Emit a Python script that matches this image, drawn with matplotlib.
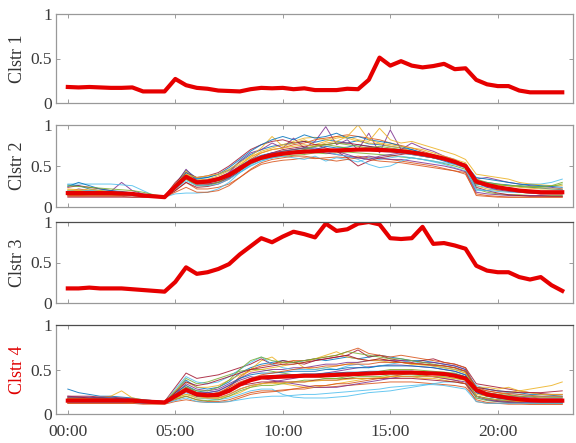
import numpy as np
import matplotlib.pyplot as plt

plt.rcParams['font.family'] = ['Liberation Serif', 'DejaVu Serif']

# half-hourly sample times in hours (00:00 ... 23:00)
hours = np.arange(0, 23.01, 0.5)

# cluster centroids (red curves)
clstr1_mean = [0.18, 0.175, 0.18, 0.175, 0.17, 0.17, 0.175, 0.13, 0.13, 0.13,
               0.27, 0.2, 0.17, 0.16, 0.14, 0.135, 0.13, 0.155, 0.17, 0.165,
               0.17, 0.155, 0.165, 0.145, 0.145, 0.145, 0.16, 0.155, 0.26, 0.51,
               0.42, 0.47, 0.42, 0.40, 0.415, 0.44, 0.38, 0.39, 0.26, 0.21,
               0.19, 0.19, 0.14, 0.12, 0.12, 0.12, 0.12]

clstr2_mean = [0.17, 0.17, 0.17, 0.17, 0.17, 0.165, 0.16, 0.14, 0.13, 0.12,
               0.25, 0.37, 0.30, 0.31, 0.34, 0.39, 0.47, 0.55, 0.60, 0.63,
               0.65, 0.665, 0.675, 0.68, 0.69, 0.69, 0.695, 0.70, 0.70, 0.695,
               0.69, 0.68, 0.665, 0.645, 0.62, 0.59, 0.55, 0.50, 0.31, 0.27,
               0.24, 0.22, 0.20, 0.19, 0.18, 0.18, 0.18]

clstr3_mean = [0.18, 0.18, 0.19, 0.18, 0.18, 0.18, 0.17, 0.16, 0.15, 0.14,
               0.26, 0.44, 0.36, 0.38, 0.42, 0.48, 0.60, 0.70, 0.80, 0.75,
               0.82, 0.88, 0.85, 0.81, 0.98, 0.89, 0.91, 0.98, 1.0, 0.97,
               0.80, 0.79, 0.80, 0.94, 0.73, 0.74, 0.71, 0.67, 0.46, 0.40,
               0.38, 0.38, 0.32, 0.29, 0.32, 0.22, 0.15]

clstr4_mean = [0.15, 0.15, 0.15, 0.15, 0.15, 0.15, 0.15, 0.14, 0.135, 0.13,
               0.20, 0.27, 0.22, 0.21, 0.215, 0.26, 0.33, 0.38, 0.41, 0.415,
               0.42, 0.425, 0.43, 0.43, 0.435, 0.44, 0.445, 0.45, 0.455, 0.46,
               0.465, 0.465, 0.465, 0.46, 0.455, 0.45, 0.43, 0.40, 0.27, 0.22,
               0.20, 0.18, 0.165, 0.155, 0.15, 0.15, 0.15]

# individual member profiles of cluster 2
clstr2_members = [
    [0.27, 0.26, 0.22, 0.2, 0.18, 0.17, 0.16, 0.15, 0.14, 0.13, 0.28, 0.45, 0.35, 0.36, 0.4, 0.45, 0.55, 0.64,
     0.7, 0.74, 0.76, 0.78, 0.8, 0.79, 0.82, 0.8, 0.78, 0.81, 0.77, 0.76, 0.74, 0.72, 0.7, 0.66, 0.63, 0.6, 0.56, 0.52,
     0.32, 0.3, 0.28, 0.27, 0.25, 0.24, 0.23, 0.22, 0.21],
    [0.13, 0.13, 0.13, 0.13, 0.13, 0.13, 0.12, 0.12, 0.12, 0.12, 0.2, 0.3, 0.22, 0.22, 0.24, 0.28, 0.36, 0.45,
     0.52, 0.55, 0.57, 0.58, 0.6, 0.59, 0.6, 0.61, 0.6, 0.62, 0.6, 0.59, 0.58, 0.56, 0.54, 0.52, 0.5, 0.47, 0.44, 0.4,
     0.16, 0.14, 0.13, 0.12, 0.12, 0.12, 0.12, 0.12, 0.12],
    [0.2, 0.2, 0.19, 0.19, 0.18, 0.18, 0.17, 0.15, 0.14, 0.13, 0.26, 0.4, 0.33, 0.34, 0.38, 0.44, 0.52, 0.6,
     0.68, 0.72, 0.76, 0.8, 0.84, 0.85, 0.82, 0.86, 0.84, 0.8, 0.78, 0.77, 0.74, 0.72, 0.68, 0.64, 0.6, 0.57, 0.54, 0.49,
     0.26, 0.22, 0.2, 0.19, 0.18, 0.17, 0.17, 0.16, 0.16],
    [0.18, 0.22, 0.2, 0.18, 0.19, 0.3, 0.2, 0.16, 0.14, 0.13, 0.27, 0.46, 0.32, 0.3, 0.34, 0.42, 0.56, 0.66,
     0.7, 0.78, 0.72, 0.84, 0.72, 0.8, 0.98, 0.76, 0.82, 0.7, 0.9, 0.66, 0.94, 0.7, 0.78, 0.72, 0.68, 0.62, 0.58, 0.5,
     0.34, 0.36, 0.33, 0.3, 0.28, 0.26, 0.25, 0.24, 0.22],
    [0.15, 0.15, 0.15, 0.15, 0.15, 0.14, 0.14, 0.13, 0.13, 0.12, 0.22, 0.34, 0.28, 0.28, 0.3, 0.35, 0.44, 0.52,
     0.58, 0.6, 0.62, 0.63, 0.64, 0.66, 0.65, 0.66, 0.67, 0.66, 0.65, 0.64, 0.63, 0.61, 0.6, 0.58, 0.56, 0.53, 0.5, 0.46,
     0.22, 0.18, 0.16, 0.15, 0.15, 0.14, 0.14, 0.14, 0.14],
    [0.28, 0.28, 0.28, 0.28, 0.28, 0.27, 0.26, 0.2, 0.14, 0.12, 0.16, 0.17, 0.17, 0.18, 0.22, 0.3, 0.42, 0.5,
     0.56, 0.6, 0.62, 0.6, 0.58, 0.62, 0.56, 0.6, 0.58, 0.55, 0.6, 0.58, 0.6, 0.62, 0.6, 0.58, 0.55, 0.52, 0.48, 0.44,
     0.2, 0.2, 0.22, 0.24, 0.26, 0.28, 0.28, 0.3, 0.34],
    [0.24, 0.26, 0.24, 0.22, 0.2, 0.18, 0.16, 0.15, 0.14, 0.13, 0.3, 0.42, 0.36, 0.38, 0.42, 0.5, 0.6, 0.7,
     0.76, 0.8, 0.82, 0.78, 0.8, 0.76, 0.72, 0.68, 0.6, 0.5, 0.56, 0.6, 0.62, 0.64, 0.66, 0.62, 0.6, 0.58, 0.54, 0.5,
     0.3, 0.26, 0.24, 0.22, 0.2, 0.19, 0.18, 0.18, 0.17],
    [0.19, 0.19, 0.18, 0.18, 0.18, 0.17, 0.16, 0.14, 0.13, 0.12, 0.24, 0.38, 0.3, 0.31, 0.33, 0.4, 0.5, 0.58,
     0.63, 0.66, 0.68, 0.7, 0.72, 0.7, 0.74, 0.72, 0.73, 0.76, 0.74, 0.72, 0.7, 0.68, 0.66, 0.63, 0.6, 0.56, 0.52, 0.48,
     0.28, 0.26, 0.24, 0.22, 0.2, 0.2, 0.19, 0.19, 0.19],
    [0.14, 0.14, 0.14, 0.14, 0.14, 0.14, 0.14, 0.13, 0.12, 0.12, 0.22, 0.35, 0.26, 0.27, 0.3, 0.36, 0.46, 0.58,
     0.66, 0.7, 0.72, 0.76, 0.78, 0.82, 0.84, 0.86, 0.88, 0.86, 0.84, 0.82, 0.78, 0.75, 0.72, 0.68, 0.64, 0.6, 0.56, 0.52,
     0.3, 0.26, 0.23, 0.2, 0.18, 0.17, 0.16, 0.16, 0.16],
    [0.22, 0.21, 0.2, 0.2, 0.19, 0.18, 0.16, 0.15, 0.13, 0.12, 0.25, 0.44, 0.3, 0.3, 0.32, 0.4, 0.5, 0.62,
     0.72, 0.86, 0.74, 0.78, 0.82, 0.76, 0.8, 0.84, 0.86, 0.82, 0.8, 0.96, 0.82, 0.78, 0.8, 0.76, 0.72, 0.68, 0.64, 0.58,
     0.4, 0.38, 0.36, 0.34, 0.3, 0.28, 0.27, 0.26, 0.26],
    [0.18, 0.17, 0.17, 0.16, 0.16, 0.16, 0.15, 0.14, 0.13, 0.12, 0.24, 0.36, 0.32, 0.33, 0.36, 0.42, 0.5, 0.56,
     0.6, 0.62, 0.64, 0.66, 0.66, 0.68, 0.66, 0.64, 0.62, 0.6, 0.62, 0.6, 0.58, 0.58, 0.56, 0.54, 0.52, 0.5, 0.47, 0.43,
     0.18, 0.16, 0.15, 0.14, 0.14, 0.14, 0.14, 0.13, 0.13],
    [0.16, 0.16, 0.16, 0.17, 0.17, 0.16, 0.15, 0.14, 0.13, 0.12, 0.24, 0.37, 0.3, 0.32, 0.34, 0.4, 0.48, 0.56,
     0.62, 0.65, 0.68, 0.7, 0.72, 0.74, 0.76, 0.74, 0.72, 0.7, 0.72, 0.7, 0.68, 0.66, 0.64, 0.62, 0.6, 0.58, 0.55, 0.5,
     0.34, 0.3, 0.28, 0.26, 0.25, 0.24, 0.24, 0.25, 0.28],
    [0.2, 0.2, 0.2, 0.2, 0.19, 0.18, 0.16, 0.14, 0.13, 0.12, 0.26, 0.38, 0.3, 0.3, 0.32, 0.36, 0.42, 0.5,
     0.56, 0.6, 0.64, 0.68, 0.7, 0.72, 0.68, 0.64, 0.62, 0.58, 0.52, 0.48, 0.5, 0.56, 0.6, 0.58, 0.56, 0.54, 0.52, 0.48,
     0.26, 0.24, 0.22, 0.2, 0.19, 0.18, 0.18, 0.17, 0.17],
    [0.12, 0.12, 0.12, 0.12, 0.12, 0.12, 0.12, 0.12, 0.12, 0.11, 0.2, 0.3, 0.24, 0.25, 0.28, 0.34, 0.44, 0.54,
     0.62, 0.66, 0.7, 0.72, 0.74, 0.76, 0.76, 0.78, 0.78, 0.76, 0.74, 0.72, 0.7, 0.68, 0.66, 0.64, 0.62, 0.58, 0.55, 0.5,
     0.24, 0.2, 0.17, 0.15, 0.14, 0.13, 0.13, 0.13, 0.13],
    [0.25, 0.3, 0.26, 0.22, 0.2, 0.19, 0.17, 0.15, 0.13, 0.12, 0.26, 0.42, 0.34, 0.36, 0.4, 0.48, 0.58, 0.68,
     0.76, 0.82, 0.86, 0.82, 0.88, 0.84, 0.86, 0.9, 0.84, 0.86, 0.82, 0.8, 0.78, 0.74, 0.7, 0.66, 0.62, 0.58, 0.55, 0.52,
     0.36, 0.34, 0.32, 0.3, 0.28, 0.27, 0.26, 0.25, 0.24],
    [0.14, 0.14, 0.15, 0.15, 0.15, 0.15, 0.14, 0.13, 0.12, 0.12, 0.18, 0.24, 0.18, 0.18, 0.2, 0.26, 0.36, 0.46,
     0.54, 0.58, 0.6, 0.62, 0.62, 0.6, 0.58, 0.56, 0.58, 0.6, 0.58, 0.56, 0.55, 0.54, 0.52, 0.5, 0.48, 0.46, 0.44, 0.42,
     0.14, 0.13, 0.12, 0.12, 0.12, 0.12, 0.12, 0.12, 0.12],
    [0.21, 0.2, 0.22, 0.2, 0.18, 0.17, 0.16, 0.14, 0.13, 0.12, 0.28, 0.4, 0.36, 0.38, 0.4, 0.46, 0.54, 0.62,
     0.66, 0.7, 0.72, 0.74, 0.76, 0.74, 0.78, 0.8, 0.86, 1.0, 0.82, 0.78, 0.76, 0.74, 0.72, 0.7, 0.66, 0.62, 0.58, 0.54,
     0.3, 0.28, 0.27, 0.26, 0.24, 0.23, 0.22, 0.22, 0.22],
    [0.17, 0.17, 0.17, 0.17, 0.17, 0.16, 0.15, 0.14, 0.13, 0.12, 0.24, 0.36, 0.28, 0.28, 0.3, 0.36, 0.46, 0.56,
     0.62, 0.66, 0.68, 0.7, 0.72, 0.72, 0.7, 0.68, 0.64, 0.6, 0.58, 0.62, 0.64, 0.66, 0.64, 0.62, 0.6, 0.57, 0.54, 0.5,
     0.3, 0.24, 0.21, 0.19, 0.18, 0.17, 0.16, 0.16, 0.16],
    [0.26, 0.25, 0.24, 0.23, 0.22, 0.21, 0.2, 0.18, 0.15, 0.13, 0.24, 0.34, 0.26, 0.26, 0.3, 0.38, 0.48, 0.56,
     0.6, 0.64, 0.66, 0.68, 0.7, 0.74, 0.76, 0.78, 0.76, 0.74, 0.72, 0.74, 0.72, 0.7, 0.68, 0.66, 0.62, 0.58, 0.54, 0.5,
     0.28, 0.28, 0.27, 0.26, 0.26, 0.25, 0.25, 0.26, 0.3],
    [0.15, 0.16, 0.16, 0.16, 0.16, 0.15, 0.14, 0.13, 0.12, 0.12, 0.22, 0.32, 0.26, 0.26, 0.28, 0.34, 0.42, 0.52,
     0.58, 0.6, 0.64, 0.66, 0.66, 0.68, 0.68, 0.7, 0.7, 0.7, 0.69, 0.68, 0.67, 0.66, 0.64, 0.62, 0.6, 0.57, 0.53, 0.48,
     0.22, 0.2, 0.19, 0.18, 0.18, 0.18, 0.17, 0.17, 0.17],
]

# individual member profiles of cluster 4
clstr4_members = [
    [0.28, 0.24, 0.22, 0.2, 0.2, 0.19, 0.18, 0.16, 0.15, 0.14, 0.25, 0.38, 0.3, 0.28, 0.3, 0.36, 0.46, 0.52,
     0.56, 0.58, 0.6, 0.58, 0.6, 0.62, 0.6, 0.62, 0.64, 0.62, 0.64, 0.66, 0.64, 0.62, 0.6, 0.6, 0.58, 0.56, 0.54, 0.5,
     0.3, 0.28, 0.26, 0.25, 0.24, 0.22, 0.22, 0.21, 0.2],
    [0.12, 0.12, 0.12, 0.12, 0.12, 0.12, 0.12, 0.12, 0.12, 0.12, 0.16, 0.2, 0.16, 0.14, 0.14, 0.16, 0.2, 0.24,
     0.26, 0.26, 0.27, 0.28, 0.28, 0.3, 0.3, 0.31, 0.32, 0.33, 0.34, 0.35, 0.36, 0.36, 0.36, 0.35, 0.34, 0.33, 0.32, 0.3,
     0.16, 0.13, 0.12, 0.12, 0.12, 0.11, 0.11, 0.11, 0.11],
    [0.16, 0.16, 0.17, 0.18, 0.2, 0.26, 0.18, 0.16, 0.14, 0.14, 0.22, 0.32, 0.24, 0.22, 0.22, 0.3, 0.4, 0.5,
     0.6, 0.64, 0.55, 0.6, 0.52, 0.5, 0.52, 0.54, 0.56, 0.58, 0.6, 0.62, 0.6, 0.58, 0.56, 0.55, 0.54, 0.52, 0.5, 0.46,
     0.24, 0.2, 0.18, 0.17, 0.16, 0.16, 0.15, 0.15, 0.15],
    [0.14, 0.14, 0.14, 0.14, 0.14, 0.14, 0.13, 0.13, 0.13, 0.12, 0.2, 0.26, 0.2, 0.18, 0.18, 0.22, 0.28, 0.32,
     0.34, 0.36, 0.38, 0.4, 0.42, 0.44, 0.46, 0.48, 0.5, 0.52, 0.53, 0.54, 0.55, 0.55, 0.54, 0.53, 0.52, 0.5, 0.48, 0.44,
     0.24, 0.2, 0.18, 0.17, 0.16, 0.15, 0.15, 0.15, 0.15],
    [0.18, 0.18, 0.17, 0.17, 0.17, 0.16, 0.16, 0.15, 0.14, 0.14, 0.26, 0.4, 0.34, 0.36, 0.4, 0.44, 0.48, 0.5,
     0.5, 0.48, 0.46, 0.44, 0.42, 0.42, 0.4, 0.4, 0.42, 0.44, 0.46, 0.48, 0.5, 0.5, 0.5, 0.49, 0.48, 0.47, 0.46, 0.42,
     0.2, 0.18, 0.16, 0.15, 0.14, 0.14, 0.14, 0.14, 0.14],
    [0.13, 0.13, 0.13, 0.13, 0.13, 0.13, 0.13, 0.12, 0.12, 0.12, 0.18, 0.24, 0.18, 0.17, 0.16, 0.18, 0.22, 0.26,
     0.28, 0.28, 0.22, 0.19, 0.18, 0.18, 0.18, 0.19, 0.2, 0.22, 0.24, 0.25, 0.26, 0.28, 0.3, 0.32, 0.34, 0.36, 0.36, 0.34,
     0.18, 0.16, 0.14, 0.13, 0.13, 0.13, 0.12, 0.12, 0.12],
    [0.2, 0.2, 0.2, 0.19, 0.19, 0.18, 0.17, 0.16, 0.15, 0.14, 0.3, 0.46, 0.4, 0.42, 0.44, 0.48, 0.52, 0.56,
     0.62, 0.56, 0.6, 0.58, 0.56, 0.6, 0.62, 0.64, 0.66, 0.72, 0.64, 0.66, 0.62, 0.6, 0.58, 0.6, 0.62, 0.58, 0.56, 0.52,
     0.34, 0.32, 0.3, 0.28, 0.26, 0.24, 0.23, 0.22, 0.22],
    [0.15, 0.15, 0.15, 0.15, 0.15, 0.15, 0.14, 0.14, 0.13, 0.13, 0.2, 0.28, 0.22, 0.2, 0.2, 0.26, 0.34, 0.4,
     0.42, 0.43, 0.44, 0.44, 0.45, 0.45, 0.46, 0.46, 0.47, 0.47, 0.48, 0.48, 0.48, 0.48, 0.48, 0.47, 0.47, 0.46, 0.45, 0.42,
     0.24, 0.2, 0.18, 0.16, 0.15, 0.15, 0.14, 0.14, 0.14],
    [0.17, 0.17, 0.17, 0.17, 0.16, 0.16, 0.15, 0.14, 0.14, 0.13, 0.22, 0.3, 0.22, 0.2, 0.22, 0.3, 0.42, 0.5,
     0.54, 0.56, 0.58, 0.6, 0.6, 0.62, 0.64, 0.66, 0.7, 0.74, 0.68, 0.66, 0.64, 0.66, 0.64, 0.62, 0.6, 0.58, 0.56, 0.52,
     0.28, 0.26, 0.24, 0.22, 0.2, 0.19, 0.18, 0.18, 0.18],
    [0.13, 0.14, 0.15, 0.16, 0.16, 0.16, 0.15, 0.14, 0.13, 0.12, 0.18, 0.22, 0.2, 0.18, 0.18, 0.2, 0.24, 0.3,
     0.34, 0.36, 0.34, 0.32, 0.3, 0.3, 0.32, 0.34, 0.36, 0.38, 0.4, 0.4, 0.42, 0.42, 0.42, 0.4, 0.4, 0.38, 0.36, 0.34,
     0.22, 0.2, 0.22, 0.24, 0.26, 0.28, 0.3, 0.32, 0.36],
    [0.2, 0.19, 0.19, 0.18, 0.18, 0.17, 0.16, 0.15, 0.14, 0.13, 0.22, 0.34, 0.28, 0.26, 0.28, 0.34, 0.4, 0.46,
     0.48, 0.5, 0.5, 0.52, 0.52, 0.54, 0.56, 0.56, 0.58, 0.58, 0.6, 0.6, 0.6, 0.6, 0.6, 0.58, 0.58, 0.56, 0.54, 0.5,
     0.28, 0.24, 0.22, 0.2, 0.19, 0.18, 0.17, 0.17, 0.17],
    [0.14, 0.14, 0.14, 0.14, 0.14, 0.14, 0.14, 0.13, 0.13, 0.13, 0.17, 0.2, 0.16, 0.15, 0.16, 0.2, 0.26, 0.3,
     0.32, 0.32, 0.34, 0.36, 0.38, 0.38, 0.4, 0.4, 0.4, 0.42, 0.42, 0.42, 0.44, 0.44, 0.44, 0.43, 0.42, 0.42, 0.4, 0.38,
     0.18, 0.15, 0.14, 0.13, 0.13, 0.12, 0.12, 0.12, 0.12],
    [0.16, 0.16, 0.15, 0.15, 0.15, 0.15, 0.14, 0.14, 0.13, 0.13, 0.28, 0.42, 0.36, 0.34, 0.36, 0.42, 0.5, 0.58,
     0.64, 0.56, 0.52, 0.5, 0.5, 0.5, 0.52, 0.5, 0.54, 0.56, 0.52, 0.54, 0.56, 0.58, 0.6, 0.56, 0.54, 0.52, 0.5, 0.48,
     0.32, 0.28, 0.26, 0.24, 0.22, 0.2, 0.2, 0.19, 0.19],
    [0.15, 0.15, 0.16, 0.16, 0.16, 0.15, 0.15, 0.14, 0.13, 0.12, 0.2, 0.26, 0.22, 0.22, 0.24, 0.28, 0.32, 0.34,
     0.36, 0.36, 0.36, 0.36, 0.36, 0.38, 0.38, 0.38, 0.4, 0.4, 0.4, 0.4, 0.4, 0.4, 0.4, 0.39, 0.38, 0.37, 0.36, 0.34,
     0.2, 0.17, 0.15, 0.14, 0.14, 0.14, 0.14, 0.14, 0.14],
    [0.18, 0.18, 0.18, 0.18, 0.18, 0.17, 0.16, 0.15, 0.14, 0.13, 0.24, 0.32, 0.26, 0.24, 0.26, 0.32, 0.4, 0.44,
     0.46, 0.46, 0.47, 0.48, 0.48, 0.48, 0.5, 0.5, 0.52, 0.52, 0.52, 0.54, 0.54, 0.54, 0.54, 0.53, 0.52, 0.5, 0.48, 0.44,
     0.26, 0.22, 0.2, 0.18, 0.17, 0.16, 0.16, 0.16, 0.16],
    [0.12, 0.12, 0.12, 0.12, 0.12, 0.12, 0.12, 0.11, 0.11, 0.11, 0.14, 0.16, 0.14, 0.13, 0.13, 0.14, 0.18, 0.22,
     0.24, 0.25, 0.26, 0.28, 0.3, 0.32, 0.32, 0.34, 0.34, 0.36, 0.38, 0.4, 0.42, 0.44, 0.46, 0.44, 0.42, 0.4, 0.38, 0.34,
     0.14, 0.12, 0.12, 0.11, 0.11, 0.11, 0.11, 0.11, 0.11],
    [0.17, 0.17, 0.17, 0.16, 0.16, 0.16, 0.15, 0.14, 0.14, 0.13, 0.26, 0.36, 0.3, 0.3, 0.32, 0.38, 0.44, 0.48,
     0.5, 0.52, 0.54, 0.56, 0.58, 0.62, 0.66, 0.7, 0.64, 0.62, 0.6, 0.6, 0.58, 0.58, 0.56, 0.56, 0.54, 0.52, 0.5, 0.46,
     0.3, 0.3, 0.28, 0.3, 0.26, 0.24, 0.22, 0.22, 0.22],
    [0.14, 0.14, 0.14, 0.14, 0.14, 0.14, 0.13, 0.13, 0.13, 0.12, 0.2, 0.3, 0.24, 0.24, 0.26, 0.32, 0.38, 0.42,
     0.4, 0.38, 0.36, 0.34, 0.32, 0.3, 0.3, 0.3, 0.32, 0.34, 0.36, 0.38, 0.4, 0.42, 0.42, 0.42, 0.42, 0.4, 0.38, 0.36,
     0.2, 0.16, 0.14, 0.13, 0.13, 0.13, 0.13, 0.13, 0.13],
    [0.16, 0.16, 0.16, 0.16, 0.16, 0.15, 0.15, 0.14, 0.13, 0.13, 0.2, 0.3, 0.26, 0.26, 0.3, 0.38, 0.5, 0.6,
     0.64, 0.6, 0.58, 0.58, 0.6, 0.62, 0.64, 0.66, 0.7, 0.68, 0.66, 0.64, 0.62, 0.62, 0.6, 0.58, 0.56, 0.54, 0.52, 0.48,
     0.26, 0.24, 0.22, 0.21, 0.2, 0.2, 0.19, 0.19, 0.19],
    [0.13, 0.13, 0.13, 0.13, 0.13, 0.13, 0.13, 0.12, 0.12, 0.12, 0.15, 0.18, 0.14, 0.13, 0.13, 0.14, 0.16, 0.18,
     0.19, 0.2, 0.2, 0.21, 0.22, 0.22, 0.23, 0.24, 0.25, 0.26, 0.27, 0.28, 0.3, 0.31, 0.32, 0.33, 0.33, 0.32, 0.3, 0.28,
     0.14, 0.12, 0.12, 0.12, 0.12, 0.12, 0.12, 0.12, 0.12],
    [0.19, 0.19, 0.18, 0.18, 0.17, 0.17, 0.16, 0.15, 0.14, 0.13, 0.24, 0.36, 0.32, 0.34, 0.38, 0.42, 0.46, 0.5,
     0.52, 0.54, 0.56, 0.56, 0.58, 0.6, 0.62, 0.64, 0.66, 0.62, 0.6, 0.62, 0.6, 0.58, 0.57, 0.56, 0.55, 0.54, 0.52, 0.48,
     0.3, 0.28, 0.26, 0.25, 0.24, 0.24, 0.24, 0.25, 0.26],
    [0.15, 0.15, 0.15, 0.15, 0.15, 0.15, 0.14, 0.14, 0.13, 0.13, 0.2, 0.26, 0.2, 0.2, 0.22, 0.28, 0.34, 0.38,
     0.4, 0.42, 0.42, 0.42, 0.44, 0.44, 0.44, 0.46, 0.46, 0.46, 0.46, 0.47, 0.48, 0.48, 0.48, 0.47, 0.46, 0.45, 0.44, 0.4,
     0.2, 0.17, 0.16, 0.15, 0.15, 0.15, 0.15, 0.15, 0.15],
    [0.17, 0.17, 0.17, 0.17, 0.17, 0.16, 0.16, 0.15, 0.14, 0.14, 0.22, 0.28, 0.24, 0.22, 0.24, 0.3, 0.36, 0.4,
     0.44, 0.46, 0.48, 0.5, 0.52, 0.52, 0.54, 0.54, 0.56, 0.56, 0.56, 0.58, 0.58, 0.58, 0.57, 0.56, 0.55, 0.54, 0.52, 0.48,
     0.3, 0.26, 0.24, 0.23, 0.22, 0.21, 0.2, 0.2, 0.2],
    [0.14, 0.14, 0.14, 0.14, 0.14, 0.14, 0.13, 0.13, 0.12, 0.12, 0.18, 0.22, 0.18, 0.18, 0.18, 0.22, 0.28, 0.32,
     0.34, 0.34, 0.35, 0.36, 0.36, 0.37, 0.38, 0.38, 0.39, 0.4, 0.4, 0.41, 0.42, 0.42, 0.42, 0.42, 0.42, 0.41, 0.4, 0.38,
     0.2, 0.17, 0.16, 0.15, 0.14, 0.14, 0.14, 0.14, 0.14],
]

cluster_names = ['Clstr 1', 'Clstr 2', 'Clstr 3', 'Clstr 4']
cluster_means = [clstr1_mean, clstr2_mean, clstr3_mean, clstr4_mean]
cluster_members = [[], clstr2_members, [], clstr4_members]
label_colors = ['#333333', '#333333', '#333333', '#e00000']

xtick_hours = [0, 5, 10, 15, 20]

# matlab-like default line colours
member_colors = ['#0072bd', '#d95319', '#edb120', '#7e2f8e', '#77ac30', '#4dbeee', '#a2142f']

W, H = 576, 443
fig = plt.figure(figsize=(W / 100, H / 100), dpi=100)

# (top, bottom) of each panel in pixels
panel_px = [(14, 103), (125, 207), (222, 303), (325, 414)]
x0, x1 = 56, 573

for i, (top, bot) in enumerate(panel_px):
    ax = fig.add_axes([x0 / W, 1 - bot / H, (x1 - x0) / W, (bot - top) / H])
    for j, m in enumerate(cluster_members[i]):
        ax.plot(hours, m, color=member_colors[j % len(member_colors)], lw=0.7, alpha=0.85)
    ax.plot(hours, cluster_means[i], color='#e60000', lw=3.0, solid_joinstyle='round')

    ax.set_xlim(-0.55, 23.5)
    ax.set_ylim(0, 1)
    ax.set_yticks([0, 0.5, 1])
    ax.set_yticklabels(['0', '0.5', '1'])
    ax.set_xticks(xtick_hours)
    if i == 3:
        ax.set_xticklabels(['%02d:00' % h for h in xtick_hours])
    else:
        ax.set_xticklabels([])
    ax.tick_params(direction='in', top=True, right=True, length=3, width=0.6,
                   color='0.55', labelsize=12.5, labelcolor='#3a3a3a', pad=3)
    ax.tick_params(axis='x', pad=7)
    ax.set_ylabel(cluster_names[i], fontsize=13, color=label_colors[i], labelpad=3)
    for side, sp in ax.spines.items():
        sp.set_color('0.6')
        sp.set_linewidth(0.9)
    if i in (2, 3):
        ax.spines['top'].set_color('0.3')

fig.savefig('out.png', dpi=100)
